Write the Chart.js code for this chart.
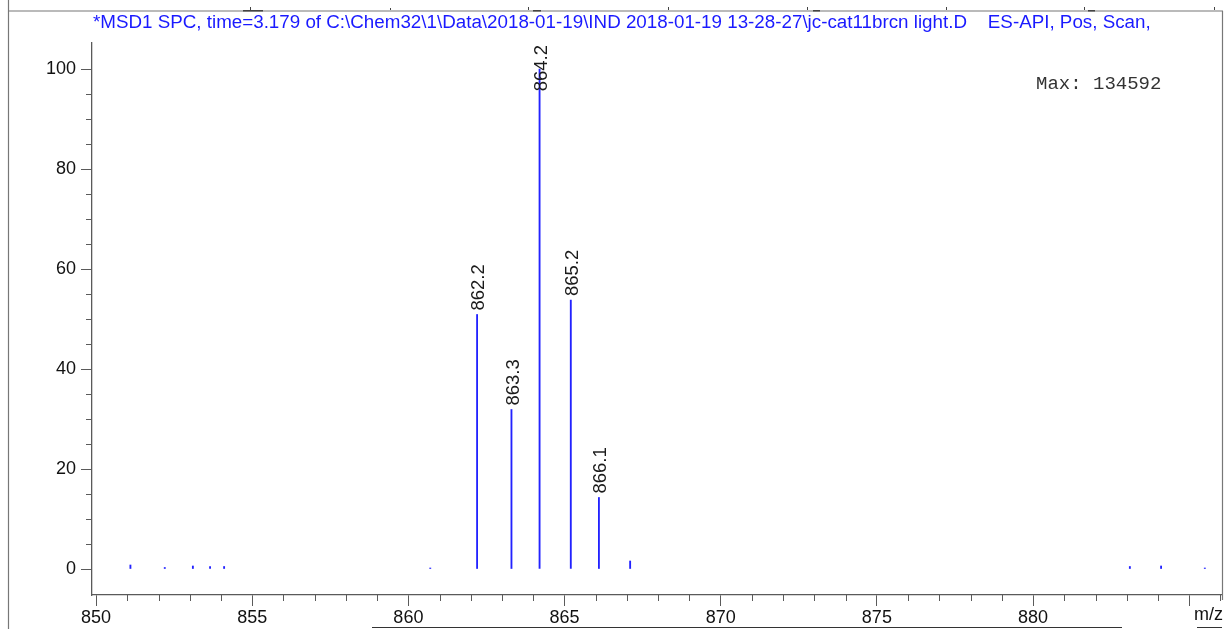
<!DOCTYPE html>
<html>
<head>
<meta charset="utf-8">
<script src="https://cdn.jsdelivr.net/npm/chart.js@4.4.1/dist/chart.umd.min.js"></script>
<style>
  html, body { margin: 0; padding: 0; background: #ffffff; }
  #wrap { width: 1226px; height: 629px; position: relative; }
</style>
</head>
<body>
<div id="wrap"><canvas id="spec" width="1226" height="629"></canvas></div>
<script>
// Mass spectrum (ES-API, positive scan) – m/z positions and relative abundance (%)
const mzValues = [851.1, 852.2, 853.1, 853.65, 854.1, 860.7, 862.2, 863.3, 864.2, 865.2, 866.1, 867.1, 883.1, 884.1, 885.5];
const relAbundance = [0.8, 0.3, 0.6, 0.5, 0.5, 0.2, 50.9, 31.9, 100, 53.8, 14.3, 1.6, 0.5, 0.6, 0.2];
const labeledPeaks = [862.2, 863.3, 864.2, 865.2, 866.1];
const yTickLabels = [0, 20, 40, 60, 80, 100];
const xTickLabels = [850, 855, 860, 865, 870, 875, 880];

const headerText = '*MSD1 SPC, time=3.179 of C:\\Chem32\\1\\Data\\2018-01-19\\IND 2018-01-19 13-28-27\\jc-cat11brcn light.D    ES-API, Pos, Scan,';
const maxText = 'Max: 134592';
const xUnit = 'm/z';

const SANS = "'Liberation Sans', Arial, sans-serif";
const AXIS_COLOR = '#5a5a5a';
const STICK_COLOR = 'rgb(34,34,255)';

const points = mzValues.map((m, i) => ({ x: m, y: relAbundance[i] }));

// Decorations: frame, header, peak annotations, minor ticks
const decor = {
  id: 'decor',
  afterDraw(chart) {
    const ctx = chart.ctx;
    const area = chart.chartArea;
    const xs = chart.scales.x, ys = chart.scales.y;
    ctx.save();

    // outer frame lines
    ctx.strokeStyle = '#777';
    ctx.lineWidth = 1.2;
    ctx.beginPath();
    ctx.moveTo(8, 11); ctx.lineTo(1223, 11);
    ctx.moveTo(8.5, 0); ctx.lineTo(8.5, 629);
    ctx.moveTo(1222.5, 11); ctx.lineTo(1222.5, 600);
    ctx.stroke();
    ctx.strokeStyle = '#333';
    ctx.beginPath();
    ctx.moveTo(372, 627.5); ctx.lineTo(1122, 627.5);
    ctx.moveTo(1197, 627.5); ctx.lineTo(1222, 627.5);
    ctx.stroke();
    // small marks along the top frame line
    ctx.fillStyle = '#444';
    [[250, 3], [390, 2], [528, 3], [668, 3], [807, 3], [946, 3], [1084, 3], [1214, 3]].forEach(([mx, h]) => {
      ctx.fillRect(mx, 11 - h - 1, 1, h);
    });
    [[243, 263], [533, 541], [813, 820], [1088, 1095]].forEach(([a, b]) => {
      ctx.fillRect(a, 10, b - a, 1.5);
    });

    // header line
    ctx.fillStyle = '#1a1aff';
    ctx.font = '18.8px ' + SANS;
    ctx.textAlign = 'left';
    ctx.textBaseline = 'alphabetic';
    ctx.fillText(headerText, 93, 28);

    // max intensity note
    ctx.fillStyle = '#333';
    ctx.font = "19px 'Liberation Mono', 'Courier New', monospace";
    ctx.fillText(maxText, 1036, 89);

    // axis unit at the right end of the x axis
    ctx.fillStyle = '#111';
    ctx.font = '18px ' + SANS;
    ctx.textAlign = 'right';
    ctx.textBaseline = 'middle';
    ctx.fillText(xUnit, 1223, 615);

    // minor ticks
    ctx.strokeStyle = AXIS_COLOR;
    ctx.lineWidth = 1;
    ctx.beginPath();
    for (let v = 5; v <= 95; v += 5) {
      if (v % 20 === 0) continue;
      const py = Math.round(ys.getPixelForValue(v)) + 0.5;
      ctx.moveTo(area.left - 6, py); ctx.lineTo(area.left, py);
    }
    for (let v = 851; v <= 886; v++) {
      if (v % 5 === 0) continue;
      const px = Math.round(xs.getPixelForValue(v)) + 0.5;
      ctx.moveTo(px, area.bottom); ctx.lineTo(px, area.bottom + 6);
    }
    ctx.stroke();

    // rotated peak annotations
    const meta = chart.getDatasetMeta(0);
    ctx.fillStyle = '#1a1a1a';
    ctx.font = '18.5px ' + SANS;
    ctx.textAlign = 'left';
    ctx.textBaseline = 'middle';
    labeledPeaks.forEach(m => {
      const idx = mzValues.indexOf(m);
      const el = meta.data[idx];
      const txt = m.toFixed(1);
      const w = ctx.measureText(txt).width;
      let start = el.y - 4;
      if (start - w < area.top + 2) start = area.top + 2 + w;
      ctx.save();
      ctx.translate(el.x + 2, start);
      ctx.rotate(-Math.PI / 2);
      ctx.fillText(txt, 0, 0);
      ctx.restore();
    });

    ctx.restore();
  }
};

new Chart(document.getElementById('spec'), {
  type: 'bar',
  data: {
    datasets: [{
      data: points,
      backgroundColor: STICK_COLOR,
      borderWidth: 0,
      barThickness: 1.2,
      grouped: false
    }]
  },
  options: {
    responsive: false,
    animation: false,
    events: [],
    layout: { padding: { left: 0, top: 43, right: 4, bottom: 0 } },
    plugins: { legend: { display: false }, tooltip: { enabled: false }, title: { display: false } },
    scales: {
      x: {
        type: 'linear',
        offset: false,
        min: 849.87,
        max: 886.05,
        afterFit(scale) { scale.height = 34; },
        border: { display: true, color: AXIS_COLOR, width: 1.3 },
        grid: {
          offset: false,
          drawOnChartArea: false,
          drawTicks: true,
          tickLength: 11,
          tickColor: c => (c.tick && c.tick.value % 5 === 0) ? AXIS_COLOR : 'rgba(0,0,0,0)'
        },
        ticks: {
          stepSize: 1,
          includeBounds: false,
          autoSkip: false,
          maxRotation: 0,
          padding: 1,
          color: '#111',
          font: { family: SANS, size: 18 },
          callback: v => xTickLabels.includes(v) ? String(v) : ''
        }
      },
      y: {
        type: 'linear',
        min: -5.2,
        max: 105.2,
        afterFit(scale) { scale.width = 92; },
        border: { display: true, color: AXIS_COLOR, width: 1.3 },
        grid: {
          drawOnChartArea: false,
          drawTicks: true,
          tickLength: 11,
          tickColor: c => (c.tick && yTickLabels.includes(c.tick.value)) ? AXIS_COLOR : 'rgba(0,0,0,0)'
        },
        ticks: {
          stepSize: 5,
          includeBounds: false,
          autoSkip: false,
          padding: 5,
          color: '#111',
          font: { family: SANS, size: 18 },
          callback: v => yTickLabels.includes(v) ? String(v) : ''
        }
      }
    }
  },
  plugins: [decor]
});
</script>
</body>
</html>
